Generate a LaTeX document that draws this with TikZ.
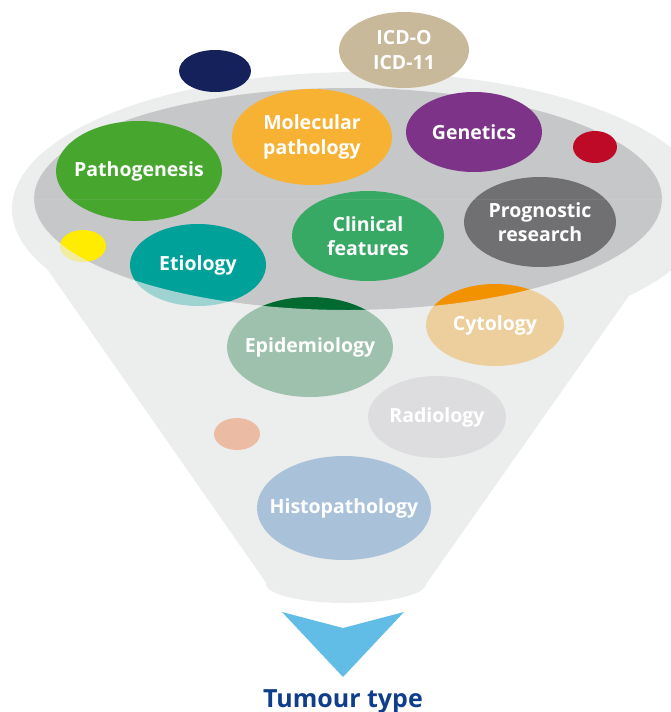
\documentclass[tikz,border=0pt]{standalone}
\usepackage{fontspec}
\setmainfont{Open Sans}
\usetikzlibrary{shapes.geometric,positioning}

\definecolor{funnelgrey}{HTML}{ECEDED}
\definecolor{rimgrey}{HTML}{C6C7C9}
\definecolor{icdtan}{HTML}{C9B99B}
\definecolor{navydot}{HTML}{14215A}
\definecolor{molorange}{HTML}{F7B234}
\definecolor{genpurple}{HTML}{7D3387}
\definecolor{reddot}{HTML}{BE0A27}
\definecolor{pathgreen}{HTML}{46A62E}
\definecolor{clingreen}{HTML}{38A964}
\definecolor{proggrey}{HTML}{707072}
\definecolor{yellowdot}{HTML}{FFEC00}
\definecolor{etioteal}{HTML}{00A199}
\definecolor{epigreen}{HTML}{006A30}
\definecolor{cytoorange}{HTML}{F29200}
\definecolor{radiogrey}{HTML}{BFBFC5}
\definecolor{salmondot}{HTML}{EF580D}
\definecolor{histoblue}{HTML}{216BB6}
\definecolor{arrowblue}{HTML}{62BDE6}
\definecolor{titleblue}{HTML}{0E3E8C}

\begin{document}
\begin{tikzpicture}[x=1pt, y=-1pt,
	bubble/.style={ellipse, inner sep=0pt},
	bubbletext/.style={text=white, align=center, inner sep=0pt,
		font=\bfseries\fontsize{19.5}{24.5}\selectfont}]
	\useasboundingbox (0,0) rectangle (671,712);

	% funnel
	\fill[funnelgrey] (360,209) ellipse [x radius=348, y radius=137];
	\fill[funnelgrey] (27,240) -- (267,584) -- (426,584) -- (668,240) -- cycle;
	\fill[funnelgrey] (346,584) ellipse [x radius=80, y radius=19];
	\fill[rimgrey] (348,199) ellipse [x radius=314, y radius=111];

	% bubbles in the rim
	\node[bubble, fill=icdtan, minimum width=130pt, minimum height=76pt] (icd) at (404,50) {};
	\node[bubble, fill=navydot, minimum width=72pt, minimum height=42pt] (navy) at (215,71) {};
	\node[bubble, fill=molorange, minimum width=160pt, minimum height=96pt] (mol) at (312,137) {};
	\node[bubble, fill=genpurple, minimum width=136pt, minimum height=80pt] (gen) at (474,132) {};
	\node[bubble, fill=reddot, minimum width=44pt, minimum height=32pt] (red) at (595,147) {};
	\node[bubble, fill=pathgreen, minimum width=166pt, minimum height=100pt] (patho) at (139,171) {};
	\node[bubble, fill=clingreen, minimum width=152pt, minimum height=90pt] (clin) at (368,236) {};
	\node[bubble, fill=proggrey, minimum width=152pt, minimum height=90pt] (prog) at (540,222) {};

	% lower bubbles, seen through the funnel wall
	\node[bubble, fill=yellowdot, minimum width=46pt, minimum height=32pt] (yellow) at (83,246) {};
	\node[bubble, fill=etioteal, minimum width=136pt, minimum height=82pt] (etio) at (198,265) {};
	\node[bubble, fill=epigreen, minimum width=166pt, minimum height=100pt] (epi) at (310,347) {};
	\node[bubble, fill=cytoorange, minimum width=138pt, minimum height=82pt] (cyto) at (495,325) {};
	\node[bubble, fill=radiogrey, minimum width=138pt, minimum height=82pt] (radio) at (437,417) {};
	\node[bubble, fill=salmondot, minimum width=46pt, minimum height=32pt] (salmon) at (237,434) {};
	\node[bubble, fill=histoblue, minimum width=174pt, minimum height=104pt] (histo) at (344,508) {};

	\begin{scope}
		\clip (0,199) rectangle (671,712);
		\fill[funnelgrey, fill opacity=0.67, even odd rule]
			(27,199) -- (27,240) -- (267,584) -- (426,584) -- (668,240) -- (668,199) -- cycle
			(348,199) ellipse [x radius=314, y radius=111];
	\end{scope}

	% labels
	\node[bubbletext] (icdtext) at (icd.center) {ICD-O\\ICD-11};
	\node[bubbletext] (moltext) at (mol.center) {Molecular\\pathology};
	\node[bubbletext] (gentext) at (gen.center) {Genetics};
	\node[bubbletext] (pathotext) at (patho.center) {Pathogenesis};
	\node[bubbletext] (clintext) at (clin.center) {Clinical\\features};
	\node[bubbletext] (progtext) at (prog.center) {Prognostic\\research};
	\node[bubbletext] (etiotext) at (etio.center) {Etiology};
	\node[bubbletext] (epitext) at (epi.center) {Epidemiology};
	\node[bubbletext] (cytotext) at (cyto.center) {Cytology};
	\node[bubbletext] (radiotext) at (radio.center) {Radiology};
	\node[bubbletext] (histotext) at (histo.center) {Histopathology};

	% arrow and result
	\coordinate (chevl) at (282,612);
	\coordinate (chevr) at (404,612);
	\coordinate (chevn) at (343,628);
	\coordinate (chevt) at (343,677);
	\fill[arrowblue] (chevl) -- (chevn) -- (chevr) -- (chevt) -- cycle;
	\node[anchor=base, text=titleblue, font=\bfseries\fontsize{25}{26}\selectfont] (tumour) at (343,707) {Tumour type};
\end{tikzpicture}
\end{document}
